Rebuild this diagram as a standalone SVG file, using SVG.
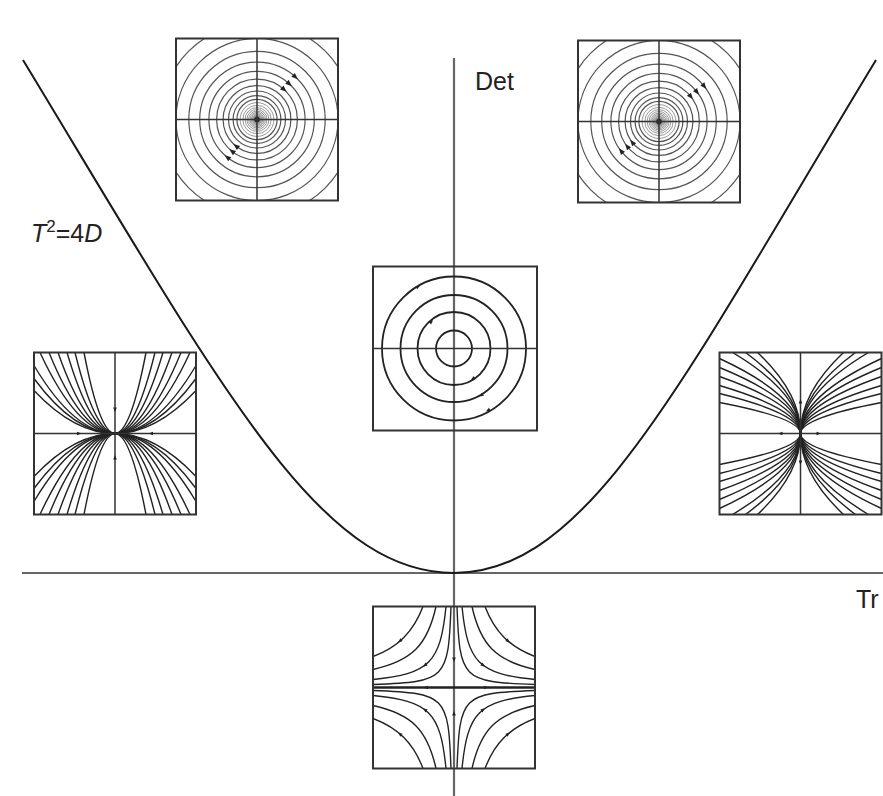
<svg xmlns="http://www.w3.org/2000/svg" xmlns:xlink="http://www.w3.org/1999/xlink" width="883" height="796" viewBox="0 0 883 796">
<style>
.box{fill:none;stroke:#333;stroke-width:2}
.ax{fill:none;stroke:#666;stroke-width:2.2}
.crv{fill:none;stroke:#1a1a1a;stroke-width:2}
.cax{fill:none;stroke:#333;stroke-width:1.5}
.fl{fill:none;stroke:#222;stroke-width:1.4}
.sp{fill:none;stroke:#555;stroke-width:1.2}
.spi{fill:none;stroke:#777;stroke-width:0.75}
.ring{fill:none;stroke:#222;stroke-width:1.8}
.lbl{font-family:"Liberation Sans",Arial,sans-serif;font-size:25px;fill:#222}
</style>
<defs>
<clipPath id="clip" clipPathUnits="userSpaceOnUse"><rect x="-81" y="-81" width="162" height="162"/></clipPath>
<path id="ah" d="M3.5,0 L-3,-2.6 L-3,2.6 Z" fill="#222"/>
<path id="ahs" d="M2.5,0 L-2,-1.8 L-2,1.8 Z" fill="#222"/>
<g id="spiral">
<g class="sp">
<circle r="115"/><circle r="96.6"/><circle r="81.1"/><circle r="68.2"/><circle r="57.3"/><circle r="48.1"/><circle r="40.4"/><circle r="33.9"/><circle r="28.5"/><circle r="23.9"/><circle r="20.1"/>
</g>
<g class="spi">
<circle r="16.9"/><circle r="14.2"/><circle r="11.9"/><circle r="10"/><circle r="8.4"/><circle r="7.1"/><circle r="5.9"/><circle r="5"/><circle r="4.2"/><circle r="3.5"/><circle r="2.9"/>
</g>
<circle r="2.8" fill="#222"/>
<path class="cax" d="M-81,0H81M0,-81V81"/>
</g>
<g id="nodeQ" class="fl">
<path d="M0,0Q15.5,0 31,-81"/>
<path d="M0,0Q20,0 40,-81"/>
<path d="M0,0Q24,0 48,-81"/>
<path d="M0,0Q28.5,0 57,-81"/>
<path d="M0,0Q33,0 66,-81"/>
<path d="M0,0Q37.5,0 75,-81"/>
<path d="M0,0Q40.5,0 81,-68"/>
<path d="M0,0Q40.5,0 81,-55"/>
<path d="M0,0Q40.5,0 81,-43"/>
</g>
<g id="nodeQ2" class="fl">
<path d="M0,0Q0,-15.5 81,-31"/>
<path d="M0,0Q0,-20 81,-40"/>
<path d="M0,0Q0,-24 81,-48"/>
<path d="M0,0Q0,-28.5 81,-57"/>
<path d="M0,0Q0,-33 81,-66"/>
<path d="M0,0Q0,-37.5 81,-75"/>
<path d="M0,0Q0,-40.5 68,-81"/>
<path d="M0,0Q0,-40.5 55,-81"/>
<path d="M0,0Q0,-40.5 43,-81"/>
</g>
<g id="sadQ">
<g class="fl">
<path d="M31,-81C40.7,-55.6 55.6,-40.7 81,-31"/>
<path d="M18,-81C26.6,-42.2 42.2,-26.6 81,-18"/>
<path d="M8,-81C13.6,-24.6 24.6,-13.6 81,-8"/>
<path d="M3,-81C5.7,-7.9 7.9,-5.7 81,-3"/>
</g>
<use xlink:href="#ahs" transform="translate(54,-46.5) rotate(40.7)"/>
<use xlink:href="#ahs" transform="translate(29,-22.3) rotate(37.6)"/>
</g>
</defs>

<g id="connectors">
<path class="ax" d="M22,573H883"/>
<path class="ax" d="M454,58V796"/>
<path class="crv" d="M23,60C223,390 319,573 454,573C589,573 682,380 876,60"/>
</g>

<g id="labels">
<text class="lbl" x="475" y="90">Det</text>
<text class="lbl" x="856" y="608">Tr</text>
<text class="lbl" x="31" y="242"><tspan font-style="italic">T</tspan><tspan font-size="17" dy="-10">2</tspan><tspan dy="10">=4</tspan><tspan font-style="italic">D</tspan></text>
</g>

<g id="spiral-stable" transform="translate(257,119.5)">
<g clip-path="url(#clip)"><use xlink:href="#spiral"/></g>
<use xlink:href="#ah" transform="translate(38.3,-42.6) rotate(42)"/>
<use xlink:href="#ah" transform="translate(32.2,-35.7) rotate(42)"/>
<use xlink:href="#ah" transform="translate(27,-30) rotate(42)"/>
<use xlink:href="#ah" transform="translate(-20.9,26.7) rotate(218)"/>
<use xlink:href="#ah" transform="translate(-24.9,31.8) rotate(218)"/>
<use xlink:href="#ah" transform="translate(-29.6,37.9) rotate(218)"/>
<rect class="box" x="-81" y="-81" width="162" height="162"/>
</g>

<g id="spiral-unstable" transform="translate(659,121.5)">
<g clip-path="url(#clip)"><use xlink:href="#spiral"/></g>
<use xlink:href="#ah" transform="translate(45.2,-35.3) rotate(52)"/>
<use xlink:href="#ah" transform="translate(37.9,-29.6) rotate(52)"/>
<use xlink:href="#ah" transform="translate(31.8,-24.9) rotate(52)"/>
<use xlink:href="#ah" transform="translate(-26.7,20.9) rotate(232)"/>
<use xlink:href="#ah" transform="translate(-31.8,24.9) rotate(232)"/>
<use xlink:href="#ah" transform="translate(-37.9,29.6) rotate(232)"/>
<rect class="box" x="-81" y="-81" width="162" height="162"/>
</g>

<g id="center" transform="translate(454,348.5)">
<g class="ring"><circle r="72"/><circle r="53.5"/><circle r="36.5"/><circle r="18"/></g>
<path class="cax" d="M-81,0H83"/>
<use xlink:href="#ahs" transform="translate(-36,-61.7) rotate(-30)"/>
<use xlink:href="#ahs" transform="translate(-22.7,-26.7) rotate(-40)"/>
<use xlink:href="#ahs" transform="translate(27.3,46.7) rotate(150)"/>
<use xlink:href="#ahs" transform="translate(34,61.7) rotate(151)"/>
<use xlink:href="#ahs" transform="translate(19,30) rotate(148)"/>
<rect class="box" x="-81" y="-82" width="164" height="164"/>
</g>

<g id="node-stable" transform="translate(115,433.5)">
<g clip-path="url(#clip)">
<use xlink:href="#nodeQ"/>
<use xlink:href="#nodeQ" transform="scale(-1,1)"/>
<use xlink:href="#nodeQ" transform="scale(1,-1)"/>
<use xlink:href="#nodeQ" transform="scale(-1,-1)"/>
</g>
<path class="cax" d="M-81,0H81M0,-81V81"/>
<use xlink:href="#ahs" transform="translate(0,-24) rotate(90)"/>
<use xlink:href="#ahs" transform="translate(0,24) rotate(-90)"/>
<use xlink:href="#ahs" transform="translate(-36,0) rotate(0)"/>
<use xlink:href="#ahs" transform="translate(36,0) rotate(180)"/>
<rect class="box" x="-81" y="-81" width="162" height="162"/>
</g>

<g id="node-unstable" transform="translate(800.5,433.5)">
<g clip-path="url(#clip)">
<use xlink:href="#nodeQ2"/>
<use xlink:href="#nodeQ2" transform="scale(-1,1)"/>
<use xlink:href="#nodeQ2" transform="scale(1,-1)"/>
<use xlink:href="#nodeQ2" transform="scale(-1,-1)"/>
</g>
<path class="cax" d="M-81,0H81M0,-81V81"/>
<use xlink:href="#ahs" transform="translate(0,-32) rotate(-90)"/>
<use xlink:href="#ahs" transform="translate(0,29) rotate(90)"/>
<use xlink:href="#ahs" transform="translate(-20,0) rotate(180)"/>
<use xlink:href="#ahs" transform="translate(18,0) rotate(0)"/>
<rect class="box" x="-81" y="-81" width="162" height="162"/>
</g>

<g id="saddle" transform="translate(454,687.5)">
<g clip-path="url(#clip)">
<use xlink:href="#sadQ"/>
<use xlink:href="#sadQ" transform="scale(-1,1)"/>
<use xlink:href="#sadQ" transform="scale(1,-1)"/>
<use xlink:href="#sadQ" transform="scale(-1,-1)"/>
</g>
<path fill="none" stroke="#222" stroke-width="2.6" d="M-81,0H81"/>
<use xlink:href="#ahs" transform="translate(0,-28) rotate(90)"/>
<use xlink:href="#ahs" transform="translate(0,26) rotate(-90)"/>
<use xlink:href="#ahs" transform="translate(-28,0) rotate(180)"/>
<use xlink:href="#ahs" transform="translate(32,0) rotate(0)"/>
<rect class="box" x="-81" y="-81" width="162" height="162"/>
</g>
</svg>
